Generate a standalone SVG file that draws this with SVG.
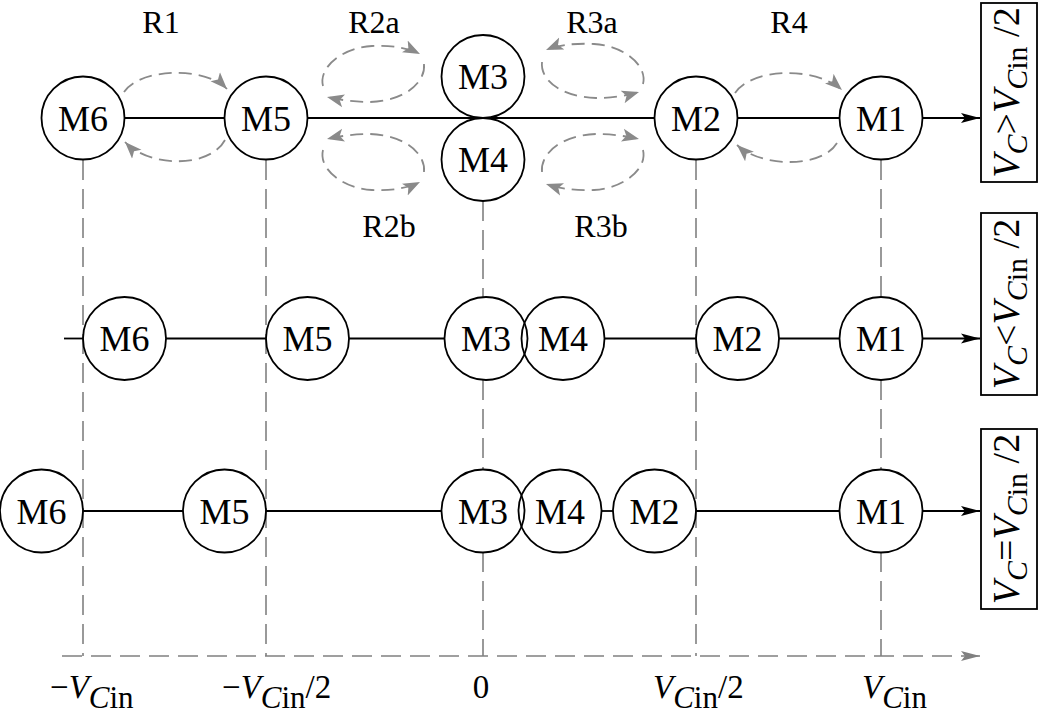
<svg xmlns="http://www.w3.org/2000/svg" width="1042" height="716" viewBox="0 0 1042 716">
<defs>
<style>
text{font-family:"Liberation Serif","DejaVu Serif",serif;fill:#000}
.m{font-size:36px;text-anchor:middle}
.r{font-size:32px;text-anchor:middle}
.ax{font-size:33px}
.bx{font-size:38px;text-anchor:middle}
.i{font-style:italic}
.node{fill:none;stroke:#000;stroke-width:1.8}
.ln{stroke:#000;stroke-width:1.8;fill:none}
.dg{stroke:#808080;stroke-width:1.6;fill:none;stroke-dasharray:20 9}
.arc{stroke:#8a8a8a;stroke-width:1.8;fill:none;stroke-dasharray:13 7;marker-end:url(#ga)}
.box{fill:none;stroke:#000;stroke-width:1.8}
</style>
<marker id="ba" markerUnits="userSpaceOnUse" markerWidth="20" markerHeight="12" refX="19" refY="6" orient="auto">
<path d="M0,1 L19,6 L0,11 L4,6 z" fill="#000"/>
</marker>
<marker id="ga" markerUnits="userSpaceOnUse" markerWidth="18" markerHeight="14" refX="17" refY="7" orient="auto">
<path d="M0,0.5 L17,7 L0,13.5 L4,7 z" fill="#8a8a8a"/>
</marker>
<marker id="gax" markerUnits="userSpaceOnUse" markerWidth="20" markerHeight="12" refX="19" refY="6" orient="auto">
<path d="M0,1 L19,6 L0,11 L4,6 z" fill="#808080"/>
</marker>
</defs>
<rect width="1042" height="716" fill="#fff"/>

<g id="guides">
<line class="dg" x1="83" y1="160" x2="83" y2="656"/>
<line class="dg" x1="266" y1="160" x2="266" y2="656"/>
<line class="dg" x1="483" y1="201" x2="483" y2="297"/>
<line class="dg" x1="483" y1="380" x2="483" y2="470"/>
<line class="dg" x1="483" y1="552" x2="483" y2="656"/>
<line class="dg" x1="696" y1="160" x2="696" y2="656"/>
<line class="dg" x1="881" y1="160" x2="881" y2="297"/>
<line class="dg" x1="881" y1="380" x2="881" y2="470"/>
<line class="dg" x1="881" y1="552" x2="881" y2="656"/>
<line class="dg" x1="62" y1="656" x2="980" y2="656" marker-end="url(#gax)"/>
</g>

<g id="connectors">
<line class="ln" x1="124.5" y1="118" x2="224.5" y2="118"/>
<line class="ln" x1="307.5" y1="118" x2="654.5" y2="118"/>
<line class="ln" x1="737.5" y1="118" x2="839.5" y2="118"/>
<line class="ln" x1="922.5" y1="118" x2="980" y2="118" marker-end="url(#ba)"/>

<line class="ln" x1="64" y1="338.5" x2="83" y2="338.5"/>
<line class="ln" x1="166" y1="338.5" x2="266" y2="338.5"/>
<line class="ln" x1="349" y1="338.5" x2="444.5" y2="338.5"/>
<line class="ln" x1="604.5" y1="338.5" x2="696" y2="338.5"/>
<line class="ln" x1="779" y1="338.5" x2="839.5" y2="338.5"/>
<line class="ln" x1="922.5" y1="338.5" x2="980" y2="338.5" marker-end="url(#ba)"/>

<line class="ln" x1="83" y1="511" x2="183" y2="511"/>
<line class="ln" x1="266" y1="511" x2="441.5" y2="511"/>
<line class="ln" x1="601.5" y1="511" x2="613" y2="511"/>
<line class="ln" x1="696" y1="511" x2="839.5" y2="511"/>
<line class="ln" x1="922.5" y1="511" x2="980" y2="511" marker-end="url(#ba)"/>

<path class="arc" d="M124,92 C140,68 205,66 227,89"/>
<path class="arc" d="M225,140 C210,168 150,168 125,142"/>
<path class="arc" d="M735,93 C752,68 815,66 842,90"/>
<path class="arc" d="M837,143 C822,168 762,168 737,145"/>

<path class="arc" d="M323,86 C318,66 345,47 372,46 C392,45 408,48 420,54"/>
<path class="arc" d="M424,64 C426,82 405,101 370,102 C355,102 340,100 327,97"/>
<path class="arc" d="M424,172 C426,154 405,135 370,134 C355,134 340,136 327,139"/>
<path class="arc" d="M323,150 C318,170 345,189 372,190 C392,191 408,188 420,182"/>

<path class="arc" d="M643,84 C648,64 621,45 594,44 C574,43 558,45 546,50"/>
<path class="arc" d="M542,62 C540,80 561,97 596,98 C611,98 626,96 639,92"/>
<path class="arc" d="M542,172 C540,154 561,135 596,134 C611,134 626,136 639,139"/>
<path class="arc" d="M643,150 C648,170 621,189 594,190 C574,191 558,188 546,184"/>
</g>

<g id="row1">
<g id="r1-M6"><circle class="node" cx="83" cy="118" r="41.5"/><text class="m" x="83" y="130.5">M6</text></g>
<g id="r1-M5"><circle class="node" cx="266" cy="118" r="41.5"/><text class="m" x="266" y="130.5">M5</text></g>
<g id="r1-M3"><circle class="node" cx="483" cy="76.5" r="41.5"/><text class="m" x="483" y="89">M3</text></g>
<g id="r1-M4"><circle class="node" cx="483" cy="159.5" r="41.5"/><text class="m" x="483" y="172">M4</text></g>
<g id="r1-M2"><circle class="node" cx="696" cy="118" r="41.5"/><text class="m" x="696" y="130.5">M2</text></g>
<g id="r1-M1"><circle class="node" cx="881" cy="118" r="41.5"/><text class="m" x="881" y="130.5">M1</text></g>
</g>

<g id="row2">
<g id="r2-M6"><circle class="node" cx="124.5" cy="338.5" r="41.5"/><text class="m" x="124.5" y="351">M6</text></g>
<g id="r2-M5"><circle class="node" cx="307.5" cy="338.5" r="41.5"/><text class="m" x="307.5" y="351">M5</text></g>
<g id="r2-M3"><circle class="node" cx="486" cy="338.5" r="41.5"/><text class="m" x="486" y="351">M3</text></g>
<g id="r2-M4"><circle class="node" cx="563" cy="338.5" r="41.5"/><text class="m" x="563" y="351">M4</text></g>
<g id="r2-M2"><circle class="node" cx="737.5" cy="338.5" r="41.5"/><text class="m" x="737.5" y="351">M2</text></g>
<g id="r2-M1"><circle class="node" cx="881" cy="338.5" r="41.5"/><text class="m" x="881" y="351">M1</text></g>
</g>

<g id="row3">
<g id="r3-M6"><circle class="node" cx="41.5" cy="511" r="41.5"/><text class="m" x="41.5" y="523.5">M6</text></g>
<g id="r3-M5"><circle class="node" cx="224.5" cy="511" r="41.5"/><text class="m" x="224.5" y="523.5">M5</text></g>
<g id="r3-M3"><circle class="node" cx="483" cy="511" r="41.5"/><text class="m" x="483" y="523.5">M3</text></g>
<g id="r3-M4"><circle class="node" cx="560" cy="511" r="41.5"/><text class="m" x="560" y="523.5">M4</text></g>
<g id="r3-M2"><circle class="node" cx="654.5" cy="511" r="41.5"/><text class="m" x="654.5" y="523.5">M2</text></g>
<g id="r3-M1"><circle class="node" cx="881" cy="511" r="41.5"/><text class="m" x="881" y="523.5">M1</text></g>
</g>

<g id="region-labels">
<text class="r" x="161" y="33">R1</text>
<text class="r" x="374" y="33">R2a</text>
<text class="r" x="592" y="33">R3a</text>
<text class="r" x="789" y="33">R4</text>
<text class="r" x="389" y="237">R2b</text>
<text class="r" x="601" y="237">R3b</text>
</g>

<g id="conditions">
<g id="cond1"><rect class="box" x="981" y="3" width="56" height="179"/>
<text class="bx" transform="translate(1019,92.5) rotate(-90)"><tspan class="i">V</tspan><tspan class="i" dy="8" font-size="30">C</tspan><tspan dy="-8">&gt;</tspan><tspan class="i">V</tspan><tspan class="i" dy="8" font-size="30">C</tspan><tspan font-size="30">in</tspan><tspan dy="-8"> /2</tspan></text></g>
<g id="cond2"><rect class="box" x="981" y="213" width="56" height="182"/>
<text class="bx" transform="translate(1019,304) rotate(-90)"><tspan class="i">V</tspan><tspan class="i" dy="8" font-size="30">C</tspan><tspan dy="-8">&lt;</tspan><tspan class="i">V</tspan><tspan class="i" dy="8" font-size="30">C</tspan><tspan font-size="30">in</tspan><tspan dy="-8"> /2</tspan></text></g>
<g id="cond3"><rect class="box" x="981" y="429" width="56" height="180"/>
<text class="bx" transform="translate(1019,519) rotate(-90)"><tspan class="i">V</tspan><tspan class="i" dy="8" font-size="30">C</tspan><tspan dy="-8">=</tspan><tspan class="i">V</tspan><tspan class="i" dy="8" font-size="30">C</tspan><tspan font-size="30">in</tspan><tspan dy="-8"> /2</tspan></text></g>
</g>

<g id="axis-labels">
<text class="ax" x="50" y="698">−<tspan class="i">V</tspan><tspan class="i" dy="10" font-size="31">C</tspan><tspan font-size="31">in</tspan></text>
<text class="ax" x="222" y="698">−<tspan class="i">V</tspan><tspan class="i" dy="10" font-size="31">C</tspan><tspan font-size="31">in</tspan><tspan dy="-10">/2</tspan></text>
<text class="ax" x="481" y="698" text-anchor="middle">0</text>
<text class="ax" x="653" y="698"><tspan class="i">V</tspan><tspan class="i" dy="10" font-size="31">C</tspan><tspan font-size="31">in</tspan><tspan dy="-10">/2</tspan></text>
<text class="ax" x="862" y="698"><tspan class="i">V</tspan><tspan class="i" dy="10" font-size="31">C</tspan><tspan font-size="31">in</tspan></text>
</g>
</svg>
